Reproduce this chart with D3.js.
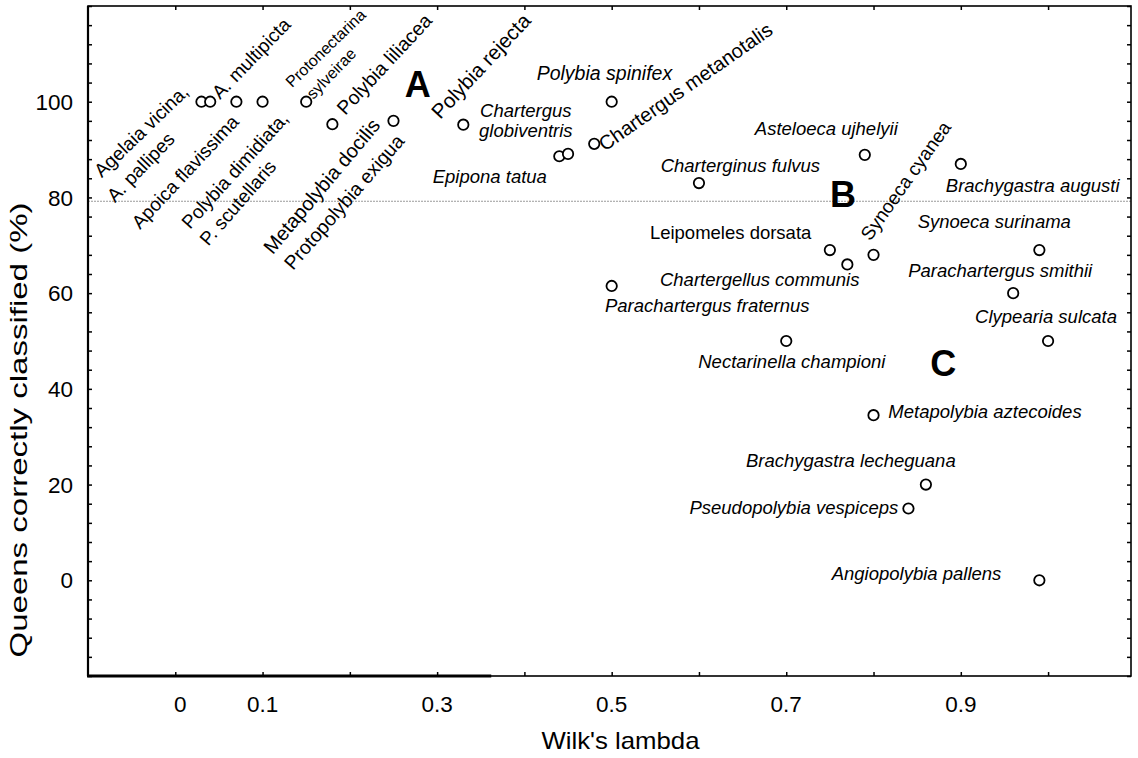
<!DOCTYPE html>
<html>
<head>
<meta charset="utf-8">
<script src="https://cdn.jsdelivr.net/npm/d3@7"></script>
<style>
  html, body { margin: 0; padding: 0; background: #fff; }
  svg { display: block; font-family: "Liberation Sans", Arial, sans-serif; }
</style>
</head>
<body>
<svg id="chart" width="1138" height="758"></svg>
<script>
// Wilk's lambda vs. % of queens correctly classified, one circle per species.

const species = [
  'Agelaia vicina', 'A. pallipes', 'Apoica flavissima', 'Polybia dimidiata', 'Protonectarina sylveirae',
  'Polybia liliacea', 'Metapolybia docilis', 'Polybia rejecta', 'Epipona tatua', 'Chartergus globiventris',
  'Chartergus metanotalis', 'Polybia spinifex', 'Charterginus fulvus', 'Asteloeca ujhelyii', 'Brachygastra augusti',
  'Leipomeles dorsata', 'Chartergellus communis', 'Synoeca cyanea', 'Synoeca surinama', 'Parachartergus smithii',
  'Clypearia sulcata', 'Nectarinella championi', 'Parachartergus fraternus', 'Metapolybia aztecoides',
  'Brachygastra lecheguana', 'Pseudopolybia vespiceps', 'Angiopolybia pallens'
];
const lambda = [
  0.03, 0.04, 0.07, 0.10, 0.15,
  0.18, 0.25, 0.33, 0.44, 0.45,
  0.48, 0.50, 0.60, 0.79, 0.90,
  0.75, 0.77, 0.80, 0.99, 0.96,
  1.00, 0.70, 0.50, 0.80,
  0.86, 0.84, 0.99
];
const queensPct = [
  100, 100, 100, 100, 100,
  95.3, 96, 95.2, 88.6, 89.1,
  91.2, 100, 83, 88.9, 87,
  69, 66, 68, 69, 60,
  50, 50, 61.5, 34.5,
  20, 15, 0
];

const xTickLabels = [0, 0.1, 0.3, 0.5, 0.7, 0.9];
const yTickLabels = [0, 20, 40, 60, 80, 100];
const threshold = 79.2;
const groups = [
  { name: 'A', lambda: 0.263, pct: 100.9 },
  { name: 'B', lambda: 0.750, pct: 78.1 },
  { name: 'C', lambda: 0.865, pct: 42.7 }
];

// label placement: offset in px from the point it belongs to
const labelLayout = [
  { text: 'Polybia spinifex', pt: 11, dx: -75, dy: -21.7, size: 19.5 },
  { text: 'Chartergus', pt: 9, dx: -88, dy: -37 },
  { text: 'globiventris', pt: 9, dx: -89, dy: -17 },
  { text: 'Epipona tatua', pt: 8, dx: -126.6, dy: 27 },
  { text: 'Charterginus fulvus', pt: 12, dx: -38.3, dy: -11.4 },
  { text: 'Asteloeca ujhelyii', pt: 13, dx: -110, dy: -20 },
  { text: 'Brachygastra augusti', pt: 14, dx: -15, dy: 28 },
  { text: 'Synoeca surinama', pt: 18, dx: -121.7, dy: -22 },
  { text: 'Parachartergus smithii', pt: 19, dx: -105, dy: -16.4 },
  { text: 'Clypearia sulcata', pt: 20, dx: -73, dy: -17.7 },
  { text: 'Leipomeles dorsata', pt: 15, dx: -180, dy: -11, upright: true },
  { text: 'Chartergellus communis', pt: 16, dx: -187.4, dy: 21.6 },
  { text: 'Parachartergus fraternus', pt: 22, dx: -6.7, dy: 25.7 },
  { text: 'Nectarinella championi', pt: 21, dx: -88, dy: 27.3 },
  { text: 'Metapolybia aztecoides', pt: 23, dx: 14.8, dy: 3.1 },
  { text: 'Brachygastra lecheguana', pt: 24, dx: -180, dy: -18 },
  { text: 'Pseudopolybia vespiceps', pt: 25, dx: -219, dy: 5.5 },
  { text: 'Angiopolybia pallens', pt: 26, dx: -207.7, dy: 0 },
  // rotated ones
  { text: 'Agelaia vicina,', pt: 0, dx: -99.8, dy: 76.6, rot: -44, upright: true, size: 19 },
  { text: 'A. pallipes', pt: 1, dx: -95.2, dy: 101.6, rot: -46, upright: true, size: 19 },
  { text: 'A. multipicta', pt: 1, dx: 9.8, dy: -1.7, rot: -46, upright: true, size: 19 },
  { text: 'Apoica flavissima', pt: 2, dx: -96.4, dy: 128.3, rot: -47, upright: true, size: 19 },
  { text: 'Polybia dimidiata,', pt: 3, dx: -72.6, dy: 128.3, rot: -48, upright: true, size: 19 },
  { text: 'P. scutellaris', pt: 3, dx: -54.3, dy: 145, rot: -49, upright: true, size: 19 },
  { text: 'Protonectarina', pt: 4, dx: -14.2, dy: -13.4, rot: -44, upright: true, size: 16 },
  { text: 'sylveirae', pt: 4, dx: 7.1, dy: -1.7, rot: -46, upright: true, size: 16 },
  { text: 'Polybia liliacea', pt: 5, dx: 12.9, dy: -8.2, rot: -47, upright: true, size: 19.5 },
  { text: 'Metapolybia docilis', pt: 6, dx: -120.8, dy: 134.5, rot: -50, upright: true, size: 20 },
  { text: 'Protopolybia exigua', pt: 6, dx: -100.5, dy: 150.2, rot: -49, upright: true, size: 19.5 },
  { text: 'Polybia rejecta', pt: 7, dx: -23, dy: -4.7, rot: -47, upright: true, size: 20.5 },
  { text: 'Chartergus metanotalis', pt: 10, dx: 10.5, dy: 7.9, rot: -35, upright: true, size: 20 },
  { text: 'Synoeca cyanea', pt: 17, dx: -3.2, dy: -13.2, rot: -54.5, upright: true, size: 19 }
];

const FRAME = { left: 88, right: 1131, top: 6, bottom: 676 };
const LABEL_SIZE = 18.5;
const TICK_SIZE = 22.5;

const svg = d3.select('#chart');

const x = d3.scaleLinear().domain([-0.1, 1.095]).range([FRAME.left, FRAME.right]);
const y = d3.scaleLinear().domain([-20, 120]).range([FRAME.bottom, FRAME.top]);

const xTicks = d3.range(0, 11).map(i => i / 10);
const yTicks = d3.range(-20, 121, 4);

// threshold line
svg.append('line')
  .attr('x1', FRAME.left).attr('x2', FRAME.right)
  .attr('y1', y(threshold)).attr('y2', y(threshold))
  .attr('stroke', '#9a9a9a')
  .attr('stroke-width', 1)
  .attr('stroke-dasharray', '2,1');

// inward ticks on all four sides
function tickAxis(axis, transform) {
  const g = svg.append('g').attr('transform', transform)
    .call(axis.tickSize(-4).tickFormat(''));
  g.select('.domain').remove();
  g.selectAll('.tick line').attr('stroke', '#000').attr('stroke-width', 1.5);
}
tickAxis(d3.axisBottom(x).tickValues(xTicks), `translate(0,${FRAME.bottom})`);
tickAxis(d3.axisTop(x).tickValues(xTicks), `translate(0,${FRAME.top})`);
tickAxis(d3.axisLeft(y).tickValues(yTicks), `translate(${FRAME.left},0)`);
tickAxis(d3.axisRight(y).tickValues(yTicks), `translate(${FRAME.right},0)`);

// frame
svg.append('rect')
  .attr('x', FRAME.left).attr('y', FRAME.top)
  .attr('width', FRAME.right - FRAME.left).attr('height', FRAME.bottom - FRAME.top)
  .attr('fill', 'none').attr('stroke', '#000').attr('stroke-width', 1.6);
svg.append('line')
  .attr('x1', FRAME.left).attr('x2', FRAME.left)
  .attr('y1', FRAME.top).attr('y2', FRAME.bottom)
  .attr('stroke', '#000').attr('stroke-width', 2.2);
svg.append('line')
  .attr('x1', FRAME.left - 1).attr('x2', x(0.362))
  .attr('y1', FRAME.bottom).attr('y2', FRAME.bottom)
  .attr('stroke', '#000').attr('stroke-width', 2.8);

// tick labels ("0" sits a little right of its tick in the original)
svg.append('g').selectAll('text')
  .data(xTickLabels)
  .join('text')
  .attr('x', d => x(d) + (d === 0 ? 5 : 0))
  .attr('y', 712)
  .attr('text-anchor', 'middle')
  .style('font-size', TICK_SIZE + 'px')
  .text(d => d);

svg.append('g').selectAll('text')
  .data(yTickLabels)
  .join('text')
  .attr('x', FRAME.left - 15)
  .attr('y', d => y(d))
  .attr('dy', '0.36em')
  .attr('text-anchor', 'end')
  .style('font-size', TICK_SIZE + 'px')
  .text(d => d);

// axis titles
svg.append('text')
  .attr('x', 620.5)
  .attr('y', 749)
  .attr('text-anchor', 'middle')
  .attr('textLength', 158)
  .attr('lengthAdjust', 'spacingAndGlyphs')
  .style('font-size', '24px')
  .text("Wilk's lambda");

svg.append('text')
  .attr('transform', 'translate(27,430) rotate(-90)')
  .attr('text-anchor', 'middle')
  .attr('textLength', 455)
  .attr('lengthAdjust', 'spacingAndGlyphs')
  .style('font-size', '24px')
  .text('Queens correctly classified (%)');

// species labels
svg.append('g').selectAll('text')
  .data(labelLayout)
  .join('text')
  .attr('transform', d => {
    const px = x(lambda[d.pt]) + d.dx;
    const py = y(queensPct[d.pt]) + d.dy;
    return `translate(${px},${py})` + (d.rot ? ` rotate(${d.rot})` : '');
  })
  .style('font-size', d => (d.size || LABEL_SIZE) + 'px')
  .style('font-style', d => d.upright ? 'normal' : 'italic')
  .text(d => d.text);

// group letters
svg.append('g').selectAll('text')
  .data(groups)
  .join('text')
  .attr('x', d => x(d.lambda))
  .attr('y', d => y(d.pct))
  .style('font-size', '36px')
  .style('font-weight', 'bold')
  .text(d => d.name);

// points
svg.append('g').selectAll('circle')
  .data(species)
  .join('circle')
  .attr('cx', (d, i) => x(lambda[i]))
  .attr('cy', (d, i) => y(queensPct[i]))
  .attr('r', 5.2)
  .attr('fill', '#fff')
  .attr('stroke', '#000')
  .attr('stroke-width', 1.8);
</script>
</body>
</html>
